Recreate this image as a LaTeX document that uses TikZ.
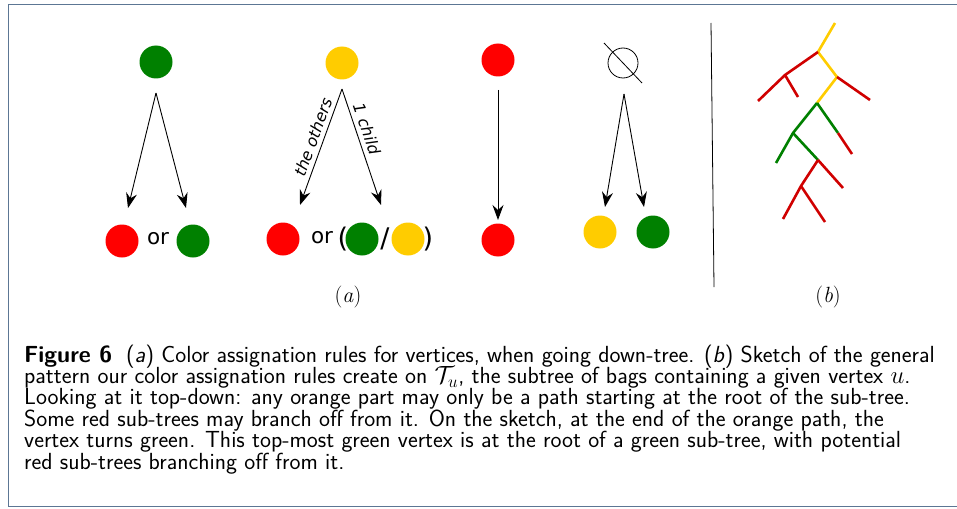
\documentclass[tikz,border=0pt]{standalone}
\usepackage{fontspec}
\usepackage{amsmath}
\usetikzlibrary{arrows.meta}
\newfontfamily\dvsans{DejaVu Sans}
\definecolor{cRed}{RGB}{255,0,0}
\definecolor{cGreen}{RGB}{0,128,0}
\definecolor{cYellow}{RGB}{255,204,0}
\definecolor{tRed}{RGB}{208,0,0}
\definecolor{tGreen}{RGB}{0,128,0}
\definecolor{tYellow}{RGB}{255,204,0}
\definecolor{frameC}{RGB}{92,118,148}
\tikzset{
  dot/.style={circle, minimum size=33pt, inner sep=0pt, draw=none},
  arr/.style={draw=black, line width=0.9pt, -{Stealth[length=15pt,width=11pt,inset=5pt]}},
  ortext/.style={font=\dvsans\fontsize{21.5}{24}\selectfont, inner sep=0pt},
  par/.style={font=\dvsans\fontsize{27}{30}\selectfont, inner sep=0pt},
  albl/.style={font=\dvsans\itshape\fontsize{16}{18}\selectfont, inner sep=0pt},
  sub/.style={font=\rmfamily\fontsize{22}{24}\selectfont, inner sep=0pt},
  tr/.style={line width=2.6pt, line cap=butt},
  capline/.style={anchor=base west, inner sep=0pt, font=\sffamily\fontsize{23.3}{21.4}\selectfont},
}
\begin{document}
\begin{tikzpicture}[x=1pt,y=-1pt]
\useasboundingbox (0,0) rectangle (957,508);
% frame
\draw[frameC, line width=1.6pt] (957,4.5) -- (8.5,4.5) -- (8.5,506.5) -- (957,506.5);

% ---- rule 1: green
\node[dot, fill=cGreen] (g1) at (156,62) {};
\coordinate (ap1) at (156,93);
\coordinate (t1l) at (128,208);
\coordinate (t1r) at (186,208);
\draw[arr] (ap1) -- (t1l);
\draw[arr] (ap1) -- (t1r);
\node[dot, fill=cRed] (r1) at (122,241) {};
\node[ortext] (or1) at (158,239) {or};
\node[dot, fill=cGreen] (g1b) at (193,241) {};

% ---- rule 2: yellow
\node[dot, fill=cYellow] (y2) at (342,63) {};
\coordinate (ap2) at (342,89);
\coordinate (t2l) at (300,205);
\coordinate (t2r) at (381,205);
\draw[arr] (ap2) -- (t2l);
\draw[arr] (ap2) -- (t2r);
\node[albl, rotate=70] (lo) at (313,137) {the others};
\node[albl, rotate=-71] (lc) at (367,129) {1 child};
\node[dot, fill=cRed] (r2) at (283,239) {};
\node[ortext] (or2) at (322,238) {or};
\node[par] (lp) at (343,239) {(};
\node[dot, fill=cGreen] (g2) at (362,239) {};
\node[par] (sl) at (385,239) {/};
\node[dot, fill=cYellow] (y2b) at (408,239) {};
\node[par] (rp) at (428,239) {)};

% ---- rule 3: red
\node[dot, fill=cRed] (r3) at (498,60) {};
\coordinate (ap3) at (498,90);
\coordinate (t3) at (498,220);
\draw[arr] (ap3) -- (t3);
\node[dot, fill=cRed] (r3b) at (498,240) {};

% ---- rule 4: empty set
\node[circle, draw=black, line width=0.8pt, minimum size=30pt, inner sep=0pt] (es) at (623,63) {};
\coordinate (esA) at (604,43);
\coordinate (esB) at (642,83);
\draw[line width=0.8pt] (esA) -- (esB);
\coordinate (ap4) at (624,94);
\coordinate (t4l) at (605,207);
\coordinate (t4r) at (644,207);
\draw[arr] (ap4) -- (t4l);
\draw[arr] (ap4) -- (t4r);
\node[dot, fill=cYellow] (y4) at (600,232) {};
\node[dot, fill=cGreen] (g4) at (653,232) {};

\node[sub] (la) at (348,297) {(\textit{a})};

% ---- separator
\coordinate (s1) at (711,23);
\coordinate (s2) at (714,287);
\draw[black, line width=0.8pt] (s1) -- (s2);

% ---- sketch (b)
\coordinate (n0) at (835,23);
\coordinate (n1) at (818,52);
\coordinate (n2) at (837,77);
\coordinate (n3) at (817,103);
\coordinate (m1) at (785,75);
\coordinate (m1a) at (758,101);
\coordinate (m1b) at (798,97);
\coordinate (m2) at (870,100);
\coordinate (g1n) at (793,133);
\coordinate (g1l) at (776,163);
\coordinate (g2n) at (838,133);
\coordinate (g2r) at (852,154);
\coordinate (g3n) at (818,160);
\coordinate (r4) at (843,188);
\coordinate (r5) at (801,186);
\coordinate (r5a) at (783,219);
\coordinate (r5b) at (825,222);
\draw[tr, tYellow, line join=round] (n0) -- (n1) -- (n2) -- (n3);
\draw[tr, tRed] (n1) -- (m1) -- (m1a);
\draw[tr, tRed] (m1) -- (m1b);
\draw[tr, tRed] (n2) -- (m2);
\draw[tr, tGreen] (n3) -- (g1n) -- (g1l);
\draw[tr, tGreen] (n3) -- (g2n);
\draw[tr, tRed] (g2n) -- (g2r);
\draw[tr, tGreen] (g1n) -- (g3n);
\draw[tr, tRed] (g3n) -- (r4);
\draw[tr, tRed] (g3n) -- (r5) -- (r5a);
\draw[tr, tRed] (r5) -- (r5b);

\node[sub] (lb) at (828,297) {(\textit{b})};

% ---- caption
\node[capline] (c1) at (24,362) {\textbf{Figure 6}\hspace{0.6em}(\textit{a}) Color assignation rules for vertices, when going down-tree. (\textit{b}) Sketch of the general};
\node[capline] (c2) at (24,383.4) {pattern our color assignation rules create on $\mathcal{T}_u$, the subtree of bags containing a given vertex $u$.};
\node[capline] (c3) at (24,404.8) {Looking at it top-down: any orange part may only be a path starting at the root of the sub-tree.};
\node[capline] (c4) at (24,426.2) {Some red sub-trees may branch off from it. On the sketch, at the end of the orange path, the};
\node[capline] (c5) at (24,447.6) {vertex turns green. This top-most green vertex is at the root of a green sub-tree, with potential};
\node[capline] (c6) at (24,469) {red sub-trees branching off from it.};
\end{tikzpicture}
\end{document}
